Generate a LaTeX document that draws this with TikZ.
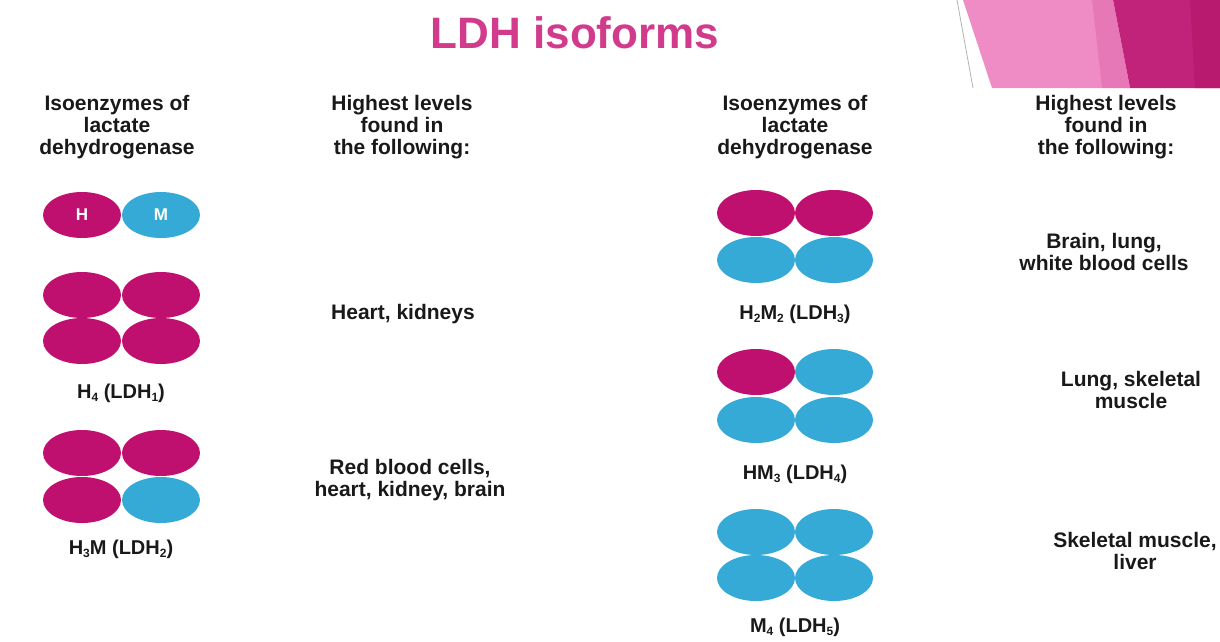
\documentclass[tikz,border=0pt]{standalone}
\usepackage{fontspec}
\setmainfont{Liberation Sans}
\usetikzlibrary{shapes.geometric}
\definecolor{hcol}{HTML}{C0106F}
\definecolor{mcol}{HTML}{36AAD6}
\definecolor{titlecol}{HTML}{D23A8C}
\definecolor{lpink}{HTML}{F08CC5}
\definecolor{dpink}{HTML}{C2237A}
\definecolor{ddpink}{HTML}{B81A70}
\newcommand{\lsub}[1]{\raisebox{-0.35ex}{\fontsize{12}{12}\selectfont #1}}
\tikzset{
  sub/.style={ellipse, minimum width=78pt, minimum height=46pt, inner sep=0pt},
  hs/.style={sub, fill=hcol},
  ms/.style={sub, fill=mcol},
  txt/.style={font=\bfseries\fontsize{21}{22}\selectfont, align=center, text=black!90},
  lab/.style={font=\bfseries\fontsize{20}{22}\selectfont, text=black!90},
  let/.style={font=\bfseries\fontsize{17}{17}\selectfont, text=white},
}
\begin{document}
\begin{tikzpicture}[x=1pt,y=-1pt]
\useasboundingbox (0,0) rectangle (1220,642);
% top right decoration
\fill[lpink] (963,0) -- (1113,0) -- (1130,88) -- (992,88) -- cycle;
\fill[dpink] (1113,0) -- (1220,0) -- (1220,88) -- (1130,88) -- cycle;
\fill[ddpink] (1190,0) -- (1220,0) -- (1220,88) -- (1195,88) -- cycle;
\fill[lpink!70!dpink, opacity=0.6] (1092,0) -- (1113,0) -- (1130,88) -- (1102,88) -- cycle;
\draw[gray!60, line width=0.8pt] (957,0) -- (973,88);
% title
\node[font=\bfseries\fontsize{44}{44}\selectfont, text=titlecol] (title) at (575,33) {LDH isoforms};
% headers
\node[txt] (h1) at (117,127) {Isoenzymes of\\lactate\\dehydrogenase};
\node[txt] (h2) at (402,127) {Highest levels\\found in\\the following:};
\node[txt] (h3) at (795,127) {Isoenzymes of\\lactate\\dehydrogenase};
\node[txt] (h4) at (1106,127) {Highest levels\\found in\\the following:};
% HM dimer
\node[hs, let] (dh) at (82,215) {H};
\node[ms, let] (dm) at (161,215) {M};
% H4
\node[hs] (a1) at (82,295) {};
\node[hs] (a2) at (161,295) {};
\node[hs] (a3) at (82,341) {};
\node[hs] (a4) at (161,341) {};
\node[lab] (la) at (121,393) {H\lsub{4} (LDH\lsub{1})};
% H3M
\node[hs] (b1) at (82,453) {};
\node[hs] (b2) at (161,453) {};
\node[hs] (b3) at (82,500) {};
\node[ms] (b4) at (161,500) {};
\node[lab] (lb) at (121,549) {H\lsub{3}M (LDH\lsub{2})};
% H2M2
\node[hs] (c1) at (756,213) {};
\node[hs] (c2) at (834,213) {};
\node[ms] (c3) at (756,260) {};
\node[ms] (c4) at (834,260) {};
\node[lab] (lc) at (795,314) {H\lsub{2}M\lsub{2} (LDH\lsub{3})};
% HM3
\node[hs] (d1) at (756,372) {};
\node[ms] (d2) at (834,372) {};
\node[ms] (d3) at (756,420) {};
\node[ms] (d4) at (834,420) {};
\node[lab] (ld) at (795,474) {HM\lsub{3} (LDH\lsub{4})};
% M4
\node[ms] (e1) at (756,532) {};
\node[ms] (e2) at (834,532) {};
\node[ms] (e3) at (756,578) {};
\node[ms] (e4) at (834,578) {};
\node[lab] (le) at (795,627) {M\lsub{4} (LDH\lsub{5})};
% tissues
\node[txt] (t1) at (403,314) {Heart, kidneys};
\node[txt] (t2) at (410,480) {Red blood cells,\\heart, kidney, brain};
\node[txt] (t3) at (1104,252) {Brain, lung,\\white blood cells};
\node[txt] (t4) at (1131,390) {Lung, skeletal\\muscle};
\node[txt] (t5) at (1135,551) {Skeletal muscle,\\liver};
\end{tikzpicture}
\end{document}
